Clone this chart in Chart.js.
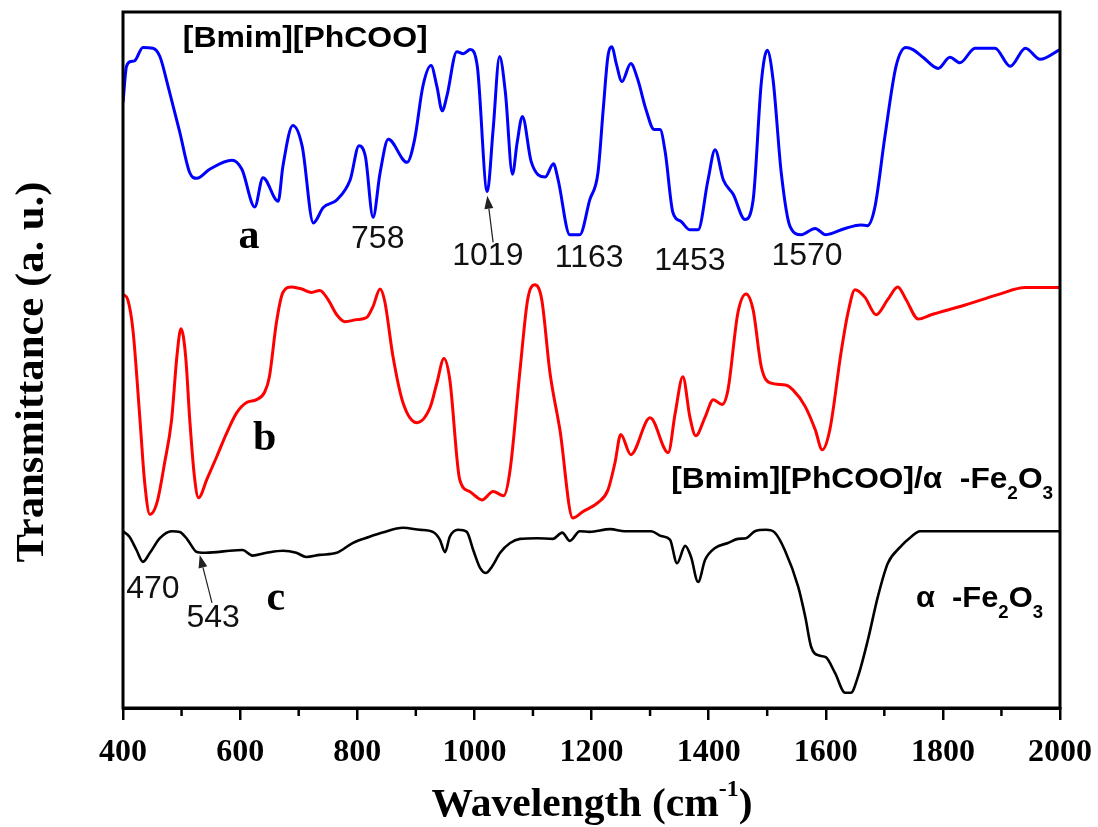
<!DOCTYPE html>
<html><head><meta charset="utf-8">
<script src="https://cdn.jsdelivr.net/npm/chart.js@4.4.1/dist/chart.umd.min.js"></script>
<style>html,body{margin:0;padding:0;background:#fff;}</style>
</head><body>
<canvas id="c" width="1098" height="827" style="width:1098px;height:827px;display:block"></canvas>
<script>
// ---- data (wavenumber cm-1, transmittance a.u.) ----
const blueX = [400,406,414,420,434,451,463,477,497,514,526,548,586,603,625,639,665,673,690,706,725,742,765,788,803,814,827,839,853,885,898,912,926,936,945,953,970,981,993,1005,1022,1032,1043,1053,1065,1073,1082,1097,1121,1135,1143,1163,1180,1197,1211,1220,1228,1235,1242,1252,1267,1279,1293,1307,1317,1326,1339,1353,1368,1382,1399,1411,1425,1442,1462,1476,1490,1500,1510,1524,1539,1558,1582,1600,1633,1660,1671,1684,1701,1720,1737,1749,1766,1792,1812,1829,1855,1889,1915,1941,1966,2000];
const blueY = [87.0,92.2,92.9,93.0,94.9,94.8,93.6,89.3,82.7,76.9,76.1,77.4,78.7,77.4,72.0,76.2,72.8,77.8,83.7,80.7,69.7,71.9,73.0,75.9,80.8,79.2,70.5,76.9,81.7,78.4,81.7,89.3,92.3,89.3,85.8,87.9,94.3,94.0,94.6,92.2,74.2,83.1,93.6,88.4,76.7,81.2,85.0,78.5,76.3,78.2,75.9,68.0,68.0,73.0,76.9,86.0,93.6,95.0,92.7,90.0,92.6,90.3,86.0,83.1,83.1,79.8,71.2,69.9,68.7,68.7,75.9,80.2,75.9,73.8,70.2,73.0,89.9,94.5,90.3,76.9,69.2,68.0,68.9,68.0,68.9,69.4,69.3,72.0,82.1,92.2,94.9,94.6,93.5,91.9,93.5,92.7,94.8,94.8,92.2,94.8,93.2,94.6];

const redX = [401,408,417,429,437,446,458,471,483,492,499,507,514,522,529,543,560,577,594,611,628,642,650,662,673,688,705,722,736,750,765,779,799,816,827,839,847,861,878,902,924,936,948,958,975,992,1013,1032,1050,1061,1078,1091,1103,1115,1129,1146,1168,1185,1211,1228,1240,1250,1267,1300,1331,1343,1356,1368,1378,1394,1408,1423,1433,1450,1464,1476,1490,1505,1531,1544,1565,1582,1594,1607,1626,1638,1650,1667,1686,1706,1723,1737,1758,1780,1838,1894,1941,2000];
const redY = [59.4,58.7,54.3,41.4,32.4,27.8,29.5,35.2,41.4,50.5,54.5,50.5,41.4,33.2,30.2,32.8,36.1,39.5,42.4,43.9,44.3,45.4,47.6,55.4,59.7,60.5,60.2,59.7,60.0,58.7,56.5,55.5,55.8,56.1,57.7,60.2,58.4,50.5,43.9,41.0,43.1,46.7,50.2,47.2,32.8,31.1,29.9,31.1,30.5,34.2,48.6,58.7,60.8,58.7,48.2,40.0,27.3,28.2,29.5,31.3,35.2,39.3,36.4,41.7,36.7,42.4,47.6,41.8,39.1,41.8,44.3,43.6,45.7,56.8,59.5,57.2,49.0,46.7,46.4,45.7,43.3,40.0,37.1,40.0,51.0,56.8,60.1,59.0,56.5,58.7,60.5,58.7,55.9,56.5,57.9,59.4,60.4,60.4];

const blackX = [400,411,423,434,446,463,483,497,510,526,536,560,582,604,621,645,673,696,713,736,765,792,821,843,878,907,929,941,950,958,972,987,998,1010,1020,1030,1044,1061,1078,1107,1134,1150,1163,1180,1197,1232,1257,1302,1319,1334,1346,1360,1370,1382,1394,1411,1433,1450,1464,1479,1498,1513,1530,1553,1565,1575,1590,1600,1616,1633,1643,1655,1672,1689,1706,1727,1746,1761,1838,1951,2000];
const blackY = [25.4,24.6,22.7,21.0,22.3,24.4,25.4,25.3,24.2,22.4,22.3,22.4,22.6,22.7,21.9,22.3,22.6,22.3,21.7,22.0,22.3,23.7,24.6,25.2,25.9,25.6,25.3,24.2,22.4,24.6,25.6,25.3,22.7,20.1,19.4,20.3,22.3,23.7,24.3,24.4,24.3,25.2,24.0,25.4,25.3,25.7,25.4,25.4,24.7,24.2,20.8,23.3,21.7,18.1,21.3,23.0,23.7,24.3,24.4,25.4,25.6,25.2,22.7,17.4,13.1,8.8,7.5,7.3,5.0,2.2,2.2,4.5,9.8,16.0,20.8,23.1,24.6,25.4,25.4,25.4,25.4];

const xTickValues = [400,600,800,1000,1200,1400,1600,1800,2000];
const xMinorTicks = [500,700,900,1100,1300,1500,1700,1900];
const peakLabels = ['758','1019','1163','1453','1570','470','543'];

function pts(xs, ys){ return xs.map((x,i)=>({x:x, y:ys[i]})); }

const SANS = '"Liberation Sans", Arial, sans-serif';
const SERIF = '"Liberation Serif", "Times New Roman", serif';

function drawRuns(ctx, parts, x, y, align, targetW){
  let w = 0;
  parts.forEach(p=>{ ctx.font = p.f; p.w = ctx.measureText(p.t).width; w += p.w; });
  const sx = targetW ? targetW / w : 1;
  ctx.save();
  ctx.translate(x, y);
  ctx.scale(sx, 1);
  let cx = align === 'center' ? -w/2 : (align === 'right' ? -w : 0);
  ctx.textAlign = 'left'; ctx.textBaseline = 'alphabetic';
  parts.forEach(p=>{ ctx.font = p.f; ctx.fillText(p.t, cx, p.dy || 0); cx += p.w; });
  ctx.restore();
}

function arrow(ctx, x1, y1, x2, y2){
  ctx.save();
  ctx.strokeStyle = '#222'; ctx.fillStyle = '#222'; ctx.lineWidth = 1.2;
  const ang = Math.atan2(y2-y1, x2-x1);
  const hl = 13, hw = 4.5;
  const bx = x2 - hl*Math.cos(ang), by = y2 - hl*Math.sin(ang);
  ctx.beginPath(); ctx.moveTo(x1,y1); ctx.lineTo(bx,by); ctx.stroke();
  ctx.beginPath();
  ctx.moveTo(x2,y2);
  ctx.lineTo(bx + hw*Math.sin(ang), by - hw*Math.cos(ang));
  ctx.lineTo(bx - hw*Math.sin(ang), by + hw*Math.cos(ang));
  ctx.closePath(); ctx.fill();
  ctx.restore();
}

const decor = {
  id: 'decor',
  afterDatasetsDraw(chart){
    const ctx = chart.ctx, xs = chart.scales.x, ys = chart.scales.y, a = chart.chartArea;
    const X = v => xs.getPixelForValue(v), Y = v => ys.getPixelForValue(v);
    ctx.save();
    // frame
    ctx.strokeStyle = '#000'; ctx.lineWidth = 3;
    ctx.strokeRect(a.left, a.top, a.right - a.left, a.bottom - a.top);
    // minor ticks
    ctx.lineWidth = 2.5;
    xMinorTicks.forEach(v=>{
      const px = X(v);
      ctx.beginPath(); ctx.moveTo(px, a.bottom); ctx.lineTo(px, a.bottom + 8); ctx.stroke();
    });
    ctx.fillStyle = '#000';
    const bold30 = 'bold 30px ' + SANS;
    const num = '32px ' + SANS;
    const letter = 'bold 42px ' + SERIF;
    // sample names
    drawRuns(ctx, [{t:'[Bmim][PhCOO]', f:bold30}], X(502), Y(95.0), 'left', 245);
    drawRuns(ctx, [{t:'[Bmim][PhCOO]/α  -Fe', f:bold30},{t:'2', f:'bold 18px '+SANS, dy:11},{t:'O', f:bold30},{t:'3', f:'bold 18px '+SANS, dy:11}], X(1336), Y(31.6), 'left', 382);
    drawRuns(ctx, [{t:'α  -Fe', f:bold30},{t:'2', f:'bold 18px '+SANS, dy:11},{t:'O', f:bold30},{t:'3', f:'bold 18px '+SANS, dy:11}], X(1754), Y(14.5), 'left', 127);
    // curve letters
    drawRuns(ctx, [{t:'a', f:letter}], X(615), Y(66.1), 'center');
    drawRuns(ctx, [{t:'b', f:letter}], X(642), Y(37.1), 'center');
    drawRuns(ctx, [{t:'c', f:letter}], X(661), Y(14.1), 'center');
    // peak numbers
    const peakPos = [[835,66.1],[1023,63.7],[1196,63.4],[1368,63.0],[1568,63.7],[451,15.8],[554,11.6]];
    peakLabels.forEach((t,i)=>{
      ctx.fillStyle = '#111';
      drawRuns(ctx, [{t:t, f:num}], X(peakPos[i][0]), Y(peakPos[i][1]), 'center');
    });
    // arrows
    arrow(ctx, X(1032), Y(66.9), X(1022), Y(73.6));
    arrow(ctx, X(552), Y(15.1), X(531), Y(22.0));
    // axis titles
    ctx.fillStyle = '#000';
    const t40 = 'bold 40px ' + SERIF;
    drawRuns(ctx, [{t:'Wavelength (cm', f:t40},{t:'-1', f:'bold 23px '+SERIF, dy:-20},{t:')', f:t40}], 592, 816, 'center', 321);
    ctx.save();
    ctx.translate(43, 372);
    ctx.rotate(-Math.PI/2);
    drawRuns(ctx, [{t:'Transmittance (a. u.)', f:t40}], 0, 0, 'center', 381);
    ctx.restore();
    ctx.restore();
  }
};

new Chart(document.getElementById('c'), {
  type: 'line',
  data: {
    datasets: [
      {label:'[Bmim][PhCOO]', data: pts(blueX, blueY), borderColor:'#0000ff', borderWidth:3},
      {label:'[Bmim][PhCOO]/α-Fe2O3', data: pts(redX, redY), borderColor:'#ff0000', borderWidth:3},
      {label:'α-Fe2O3', data: pts(blackX, blackY), borderColor:'#000000', borderWidth:2.6}
    ]
  },
  options: {
    responsive: false,
    animation: false,
    devicePixelRatio: 1,
    parsing: true,
    elements: { point: { radius: 0 }, line: { cubicInterpolationMode: 'monotone', fill: false } },
    layout: { padding: { left: 123, right: 38, top: 12, bottom: 0 } },
    plugins: { legend: { display: false }, tooltip: { enabled: false } },
    scales: {
      x: {
        type: 'linear', min: 400, max: 2000,
        afterFit: s => { s.height = 119; s.paddingLeft = 0; s.paddingRight = 0; },
        afterBuildTicks: s => { s.ticks = xTickValues.map(v => ({value: v})); },
        ticks: { color:'#000', padding: 14, maxRotation: 0, autoSkip: false,
                 callback: v => String(v),
                 font: { family: SERIF, size: 32, weight: 'bold' } },
        grid: { display: true, drawOnChartArea: false, drawTicks: true, tickLength: 12, color:'#000', lineWidth: 2.5 },
        border: { display: true, color:'#000', width: 3 }
      },
      y: { type: 'linear', min: 0, max: 100, display: false }
    }
  },
  plugins: [decor]
});
</script>
</body></html>
